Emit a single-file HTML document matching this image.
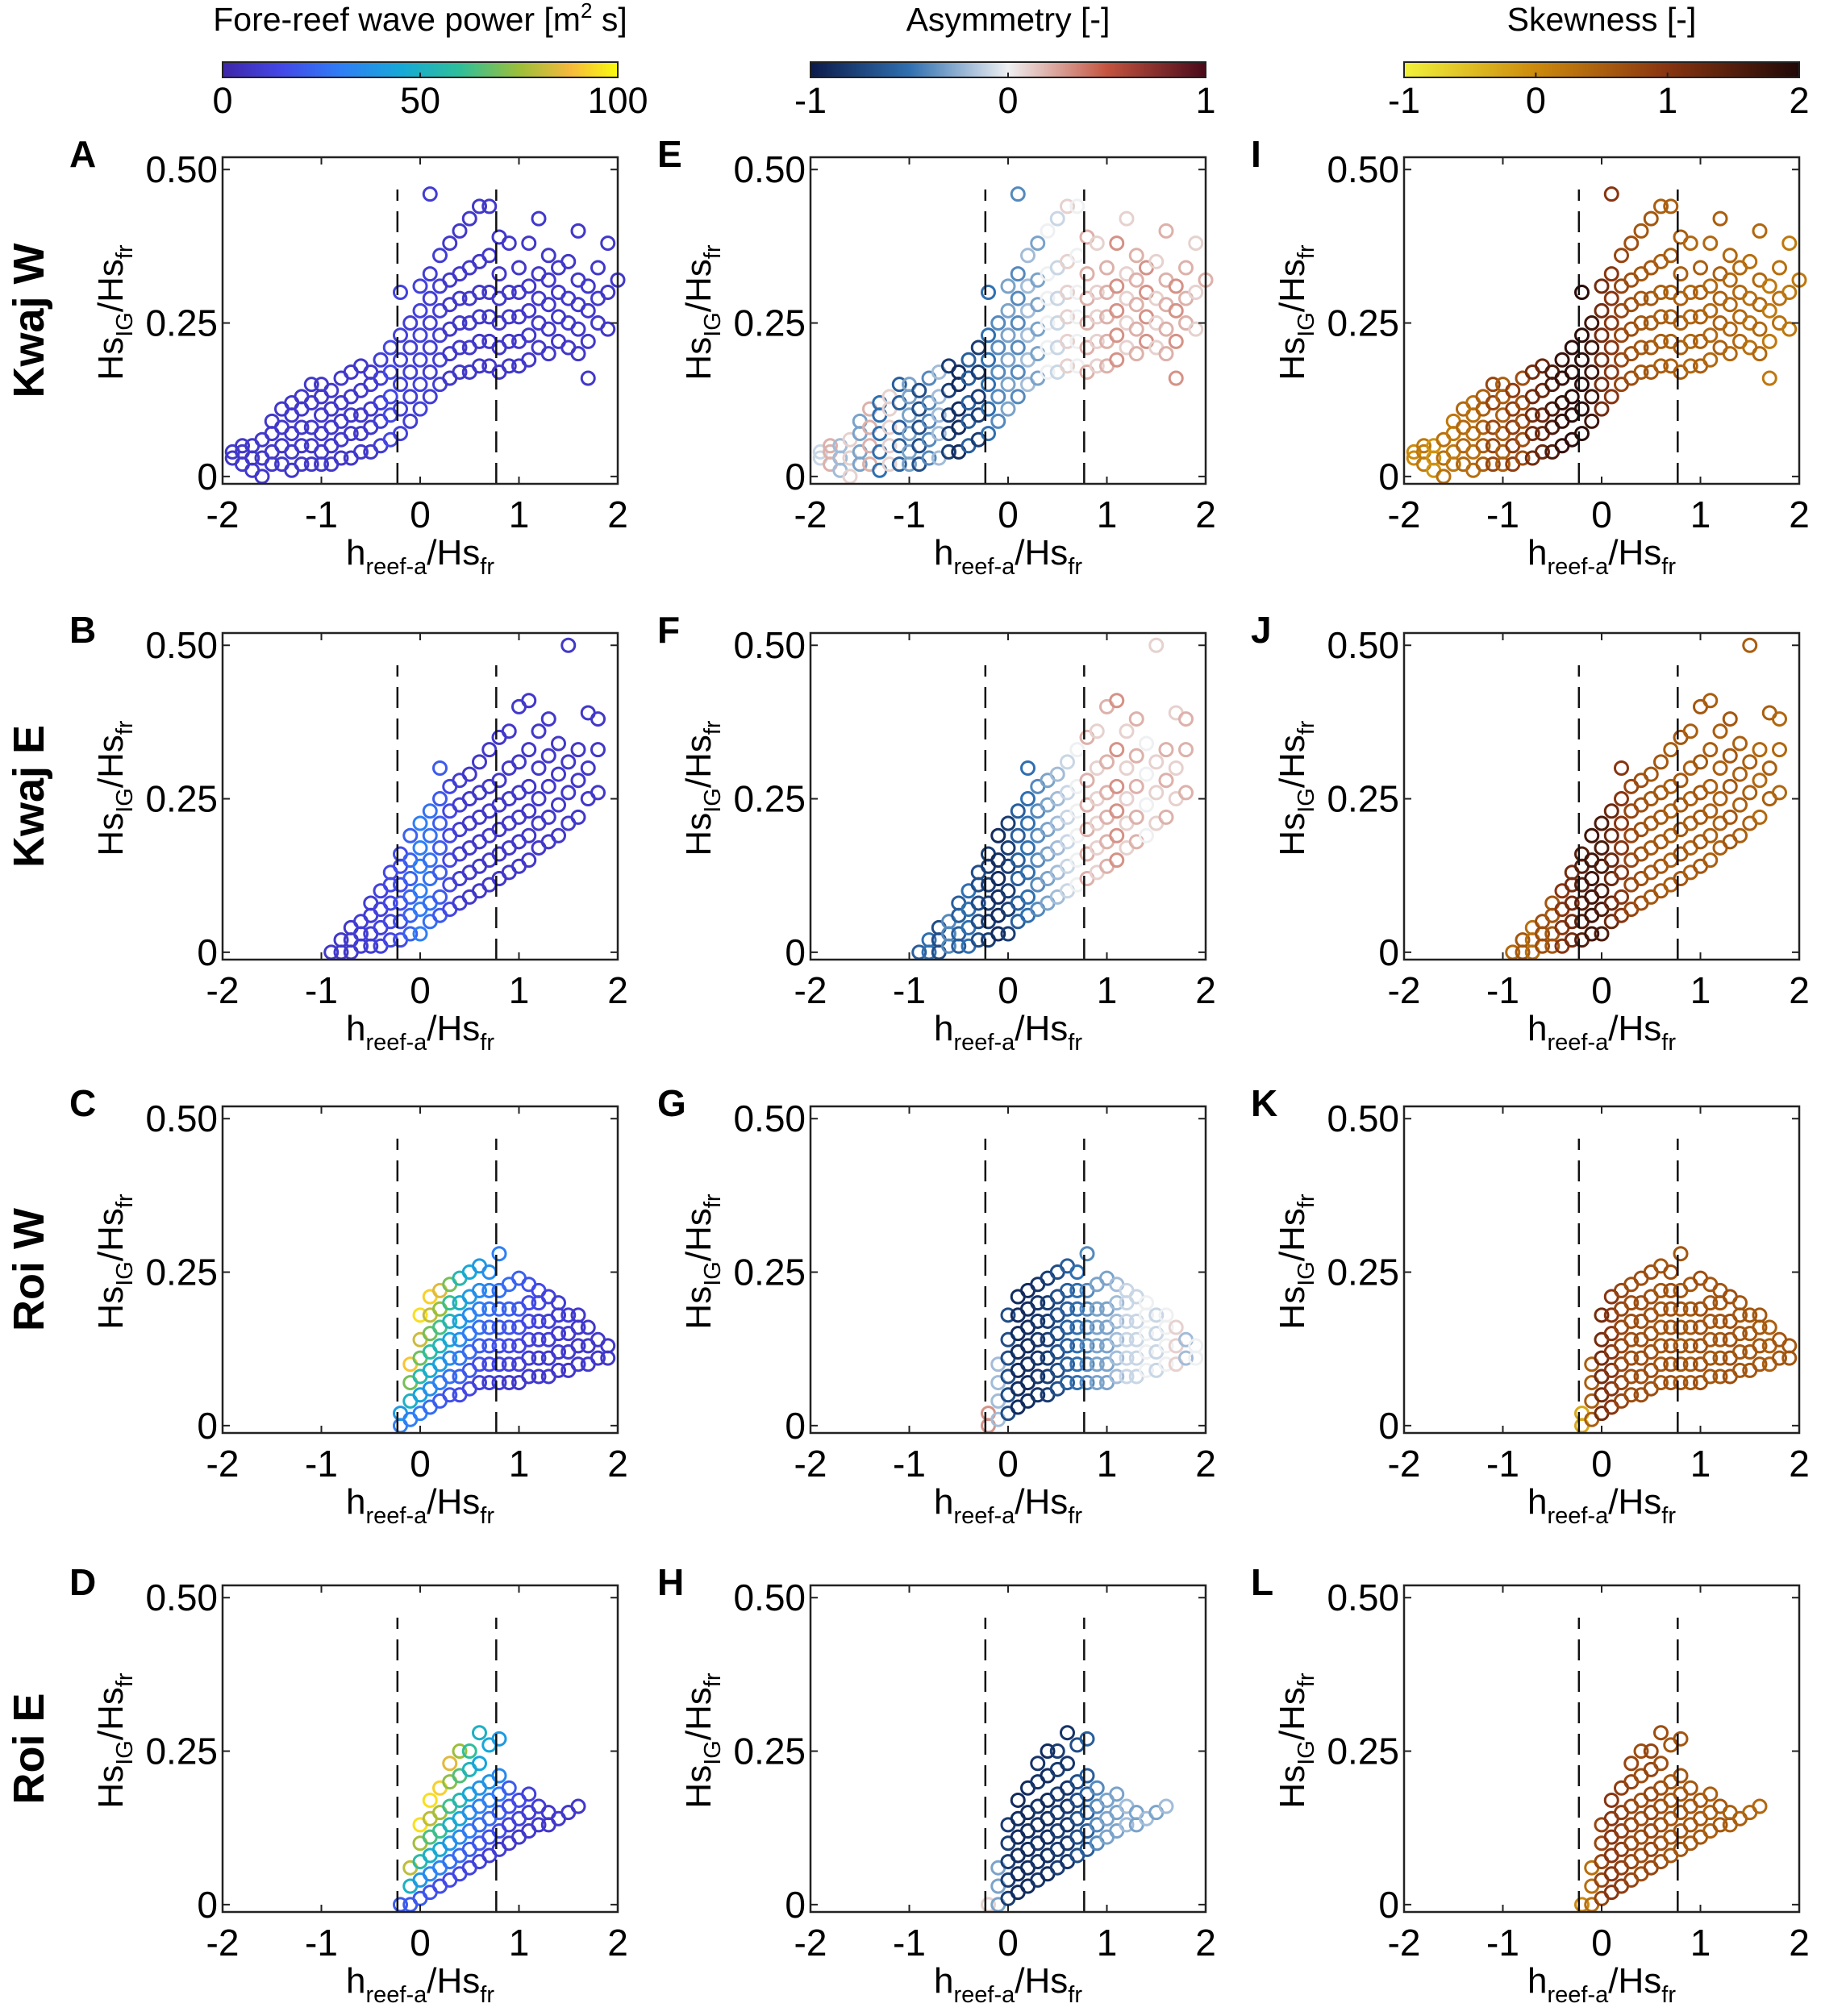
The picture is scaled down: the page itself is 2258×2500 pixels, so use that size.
<!DOCTYPE html>
<html><head><meta charset="utf-8">
<style>
html,body{margin:0;padding:0;background:#fff;}
svg{display:block;font-family:"Liberation Sans",Arial,sans-serif;}
</style></head>
<body>
<svg id="fig" width="2258" height="2500" viewBox="0 0 2258 2500" xmlns="http://www.w3.org/2000/svg">
<defs>
<linearGradient id="gParula" x1="0" x2="1" y1="0" y2="0">
<stop offset="0" stop-color="#3e26a8"/><stop offset="0.15" stop-color="#4348e8"/><stop offset="0.3" stop-color="#2f7ef6"/><stop offset="0.45" stop-color="#16a8d8"/><stop offset="0.6" stop-color="#2ebf9a"/><stop offset="0.75" stop-color="#9bbf3a"/><stop offset="0.88" stop-color="#f6b93c"/><stop offset="1" stop-color="#f9fb0e"/>
</linearGradient>
<linearGradient id="gAsym" x1="0" x2="1" y1="0" y2="0">
<stop offset="0" stop-color="#0b1a4a"/><stop offset="0.25" stop-color="#2f6fb0"/><stop offset="0.5" stop-color="#eef0f2"/><stop offset="0.75" stop-color="#c4533f"/><stop offset="1" stop-color="#4a0a1a"/>
</linearGradient>
<linearGradient id="gSkew" x1="0" x2="1" y1="0" y2="0">
<stop offset="0" stop-color="#f2f23a"/><stop offset="0.33" stop-color="#cc8a0c"/><stop offset="0.66" stop-color="#8a3510"/><stop offset="1" stop-color="#200808"/>
</linearGradient>
</defs>
<g id="root"></g>
</svg>
<script>
// ---------- data (bins of x, with y values per bin) ----------
const xTicks = [-2,-1,0,1,2];
const yTicks = [0,0.25,0.5];
const yTickLabels = ["0","0.25","0.50"];
const dashedX = [-0.23, 0.77];
const powerTicks = ["0","50","100"];
const asymTicks = ["-1","0","1"];
const skewTicks = ["-1","0","1","2"];
const rowNames = ["Kwaj W","Kwaj E","Roi W","Roi E"];
const panelLetters = [["A","E","I"],["B","F","J"],["C","G","K"],["D","H","L"]];

const kwajWX = [-1.9,-1.8,-1.7,-1.6,-1.5,-1.4,-1.3,-1.2,-1.1,-1.0,-0.9,-0.8,-0.7,-0.6,-0.5,-0.4,-0.3,-0.2,-0.1,0.0,0.1,0.2,0.3,0.4,0.5,0.6,0.7,0.8,0.9,1.0,1.1,1.2,1.3,1.4,1.5,1.6,1.7,1.8,1.9,2.0];
const kwajWY = [[.03,.04],[.02,.04,.05],[.01,.03,.05],[.0,.03,.06],[.02,.04,.07,.09],[.02,.05,.08,.11],[.01,.04,.07,.10,.12],[.02,.05,.08,.11,.13],[.02,.05,.08,.12,.15],[.02,.04,.07,.10,.13,.15],[.02,.05,.08,.11,.14],[.03,.06,.09,.12,.16],[.03,.07,.10,.13,.17],[.04,.07,.10,.14,.18],[.04,.08,.11,.15,.17],[.05,.09,.12,.16,.19],[.06,.10,.13,.17,.21],[.07,.11,.15,.19,.23,.30],[.09,.13,.17,.21,.25],[.11,.15,.19,.23,.27,.31],[.13,.17,.21,.25,.29,.33,.46],[.15,.19,.23,.27,.31,.36],[.16,.20,.24,.28,.32,.38],[.17,.21,.25,.29,.33,.40],[.17,.21,.25,.29,.34,.42],[.18,.22,.26,.30,.35,.44],[.18,.22,.26,.30,.36,.44],[.17,.21,.25,.29,.33,.39],[.18,.22,.26,.30,.38],[.18,.22,.26,.30,.34],[.19,.23,.27,.31,.38],[.21,.25,.29,.33,.42],[.20,.24,.28,.32,.36],[.22,.26,.30,.34],[.21,.25,.29,.35],[.20,.24,.28,.32,.40],[.16,.22,.27,.31],[.25,.29,.34],[.24,.30,.38],[.32]];
const kwajWPower = [8,8,8,8,8,8,8,8,8,8,8,8,8,8,8,10,14,12,10,12,10,10,8,8,8,8,8,8,8,8,8,8,8,8,8,8,8,8,8,8];
const kwajWAsym = [-0.1,0.2,-0.2,0.1,-0.3,0.2,-0.5,0.1,-0.6,-0.3,-0.7,-0.4,-0.2,-0.8,-0.9,-0.6,-0.8,-0.5,-0.4,-0.3,-0.4,-0.2,-0.3,0.0,-0.1,0.1,0.0,0.2,0.1,0.2,0.3,0.1,0.2,0.3,0.1,0.2,0.3,0.2,0.1,0.2];
const kwajWSkew = [0.0,0.2,-0.1,0.3,0.2,0.4,0.3,0.5,0.8,0.5,0.9,0.7,1.2,1.3,1.6,1.8,1.9,1.9,1.7,1.2,1.0,0.8,0.7,0.6,0.6,0.5,0.5,0.5,0.4,0.5,0.4,0.5,0.4,0.4,0.3,0.4,0.2,0.3,0.2,0.2];

const kwajEX = [-0.9,-0.8,-0.7,-0.6,-0.5,-0.4,-0.3,-0.2,-0.1,0.0,0.1,0.2,0.3,0.4,0.5,0.6,0.7,0.8,0.9,1.0,1.1,1.2,1.3,1.4,1.5,1.6,1.7,1.8];
const kwajEY = [[.0],[.0,.02],[.0,.02,.04],[.01,.03,.05],[.01,.03,.06,.08],[.01,.04,.07,.10],[.02,.05,.08,.11,.13],[.02,.05,.08,.11,.14,.16],[.03,.06,.09,.12,.15,.19],[.03,.07,.10,.14,.17,.21],[.05,.08,.12,.15,.19,.23],[.06,.09,.13,.17,.21,.25,.30],[.07,.11,.15,.19,.23,.27],[.08,.12,.16,.20,.24,.28],[.09,.13,.17,.21,.25,.29],[.10,.14,.18,.22,.26,.31],[.11,.15,.19,.23,.27,.33],[.12,.16,.20,.24,.28,.35],[.13,.17,.21,.25,.30,.36],[.14,.18,.22,.26,.31,.40],[.15,.19,.23,.27,.33,.41],[.17,.21,.25,.30,.36],[.18,.22,.27,.32,.38],[.19,.24,.29,.34],[.21,.26,.31,.50],[.22,.28,.33],[.25,.30,.39],[.26,.33,.38]];
const kwajEPower = [8,8,8,10,10,12,14,16,22,30,26,20,14,10,8,8,8,8,8,8,8,8,8,8,8,8,8,8];
const kwajESkew = [0.4,0.6,0.3,0.7,0.6,1.0,1.2,1.5,1.7,1.6,1.3,1.0,0.8,0.7,0.6,0.6,0.5,0.6,0.5,0.6,0.5,0.5,0.6,0.5,0.5,0.4,0.5,0.4];
const kwajEAsym = [-0.6,-0.5,-0.7,-0.4,-0.6,-0.5,-0.7,-0.8,-0.9,-0.8,-0.6,-0.5,-0.4,-0.3,-0.2,-0.1,0.0,0.2,0.1,0.2,0.3,0.1,0.2,0.0,0.1,0.2,0.1,0.2];

const roiWX = [-0.2,-0.1,0.0,0.1,0.2,0.3,0.4,0.5,0.6,0.7,0.8,0.9,1.0,1.1,1.2,1.3,1.4,1.5,1.6,1.7,1.8,1.9];
const roiWY = [[.0,.02],[.01,.04,.07,.10],[.02,.05,.08,.11,.14,.18],[.03,.06,.09,.12,.15,.18,.21],[.04,.07,.10,.13,.16,.19,.22],[.05,.08,.11,.14,.17,.20,.23],[.05,.08,.11,.14,.17,.20,.24],[.06,.09,.12,.15,.18,.21,.25],[.07,.10,.13,.16,.19,.22,.26],[.07,.10,.13,.16,.19,.22,.25],[.07,.10,.13,.16,.19,.22,.28],[.07,.10,.13,.16,.19,.23],[.07,.10,.13,.16,.19,.24],[.08,.11,.14,.17,.20,.23],[.08,.11,.14,.17,.20,.22],[.08,.11,.14,.17,.21],[.09,.12,.15,.18,.20],[.09,.12,.15,.18],[.10,.13,.16,.18],[.10,.13,.16],[.11,.14],[.11,.13]];
const roiWPower = [[30,40],[30,90],[30,95],[25,92],[20,85],[18,70],[15,55],[14,45],[12,40],[10,35],[10,30],[8,25],[8,22],[8,18],[8,15],[8,12],[8,10],[8,10],[8,8],[8,8],[8,8],[8,8]];
const roiWAsym = [0.3,-0.2,-0.7,-0.9,-0.9,-0.85,-0.8,-0.7,-0.6,-0.5,-0.4,-0.3,-0.3,-0.2,-0.1,-0.1,0.0,-0.1,0.0,0.1,-0.2,0.0];
const roiWSkew = [-0.3,0.5,1.2,1.0,0.8,0.7,0.7,0.7,0.6,0.7,0.6,0.6,0.7,0.6,0.6,0.7,0.6,0.6,0.6,0.5,0.6,0.6];

const roiEX = [-0.2,-0.1,0.0,0.1,0.2,0.3,0.4,0.5,0.6,0.7,0.8,0.9,1.0,1.1,1.2,1.3,1.4,1.5,1.6];
const roiEY = [[.0],[.0,.03,.06],[.01,.04,.07,.10,.13],[.02,.05,.08,.11,.14,.17],[.03,.06,.09,.12,.15,.19],[.04,.07,.10,.13,.16,.20,.23],[.05,.08,.11,.14,.17,.21,.25],[.06,.09,.12,.15,.18,.22,.25],[.07,.10,.13,.16,.19,.23,.28],[.08,.11,.14,.17,.20,.26],[.09,.12,.15,.18,.21,.27],[.10,.13,.16,.19],[.11,.14,.17],[.12,.15,.18],[.13,.16],[.13,.15],[.14],[.15],[.16]];
const roiEPower = [[20,20],[20,80],[20,95],[18,95],[16,92],[15,85],[14,75],[13,60],[12,50],[10,45],[10,40],[8,20],[8,15],[8,12],[8,10],[8,8],[8,8],[8,8],[8,8]];
const roiEAsym = [0.1,-0.3,-0.8,-0.9,-0.9,-0.85,-0.9,-0.8,-0.85,-0.7,-0.6,-0.4,-0.3,-0.3,-0.2,-0.3,-0.2,-0.3,-0.2];
const roiESkew = [0.0,0.3,0.8,1.0,0.9,0.8,0.7,0.8,0.7,0.6,0.6,0.6,0.6,0.5,0.6,0.5,0.5,0.4,0.4];

const rowsX = [kwajWX, kwajEX, roiWX, roiEX];
const rowsY = [kwajWY, kwajEY, roiWY, roiEY];
const rowsPower = [kwajWPower, kwajEPower, roiWPower, roiEPower];
const rowsAsym = [kwajWAsym, kwajEAsym, roiWAsym, roiEAsym];
const rowsSkew = [kwajWSkew, kwajESkew, roiWSkew, roiESkew];

// ---------- layout ----------
const NS = "http://www.w3.org/2000/svg";
const root = document.getElementById('root');
const colLeft = [276, 1005, 1741];
const rowTop = [195, 785, 1372, 1966];
const PW = 490, PH = 405;
const XMIN = -2, XMAX = 2, YMIN = -0.012, YMAX = 0.52;
function mk(tag, attrs, parent){ const e=document.createElementNS(NS,tag); for(const k in attrs) e.setAttribute(k,attrs[k]); (parent||root).appendChild(e); return e; }
function xScale(c, v){ return colLeft[c] + (v - XMIN)/(XMAX-XMIN)*PW; }
function yScale(r, v){ return rowTop[r] + PH - (v - YMIN)/(YMAX-YMIN)*PH; }

function lerpStops(stops, t){
  t=Math.max(0,Math.min(1,t));
  for(let i=1;i<stops.length;i++){ if(t<=stops[i][0]){ const a=stops[i-1],b=stops[i]; const u=(t-a[0])/(b[0]-a[0]||1);
    const ca=a[1], cb=b[1]; return 'rgb('+[0,1,2].map(k=>Math.round(ca[k]+(cb[k]-ca[k])*u)).join(',')+')'; } }
  const l=stops[stops.length-1][1]; return 'rgb('+l.join(',')+')';
}
const parula=[[0,[62,38,168]],[0.15,[67,72,232]],[0.3,[47,126,246]],[0.45,[22,168,216]],[0.6,[46,191,154]],[0.75,[155,191,58]],[0.88,[246,185,60]],[1,[249,251,14]]];
const asymMap=[[0,[11,26,74]],[0.25,[47,111,176]],[0.5,[238,240,242]],[0.75,[196,83,63]],[1,[74,10,26]]];
const skewMap=[[0,[242,242,58]],[0.33,[204,138,12]],[0.66,[138,53,16]],[1,[32,8,8]]];
function colorFor(col, v){
  if(col===0) return lerpStops(parula, v/100);
  if(col===1) return lerpStops(asymMap, (v+1)/2);
  return lerpStops(skewMap, (v+1)/3);
}

// ---------- colorbars ----------
const cbDefs = [
  {grad:'gParula', title:'Fore-reef wave power [m² s]', ticks:powerTicks, min:0, max:100, name:'power'},
  {grad:'gAsym', title:'Asymmetry [-]', ticks:asymTicks, min:-1, max:1, name:'asymmetry'},
  {grad:'gSkew', title:'Skewness [-]', ticks:skewTicks, min:-1, max:2, name:'skewness'}
];
cbDefs.forEach((cb,c)=>{
  const g = mk('g',{});
  
  
  const t = mk('text',{x:colLeft[c]+PW/2, y:38, 'font-size':41, 'text-anchor':'middle'}, g);
  
  
  if(c===0){ t.innerHTML='Fore-reef wave power [m<tspan font-size="26" dy="-16">2</tspan><tspan dy="16"> s]</tspan>'; } else t.textContent=cb.title;
  const r = mk('rect',{x:colLeft[c], y:77, width:PW, height:19, fill:'url(#'+cb.grad+')', stroke:'#222', 'stroke-width':2}, g);
  
  
  cb.ticks.forEach((lab,i)=>{
    const v = cb.min + i*(cb.max-cb.min)/(cb.ticks.length-1);
    const x = colLeft[c] + (v-cb.min)/(cb.max-cb.min)*PW;
    mk('line',{x1:x,x2:x,y1:90,y2:96,stroke:'#222','stroke-width':2},g);
    const tt = mk('text',{x:x, y:140, 'font-size':45, 'text-anchor':'middle'}, g);
    
    
    tt.textContent = lab;
  });
});

// ---------- row labels ----------
rowNames.forEach((nm,r)=>{
  const cy = rowTop[r] + PH/2;
  const t = mk('text',{x:0,y:0,'font-size':54,'font-weight':'bold','text-anchor':'middle',transform:'translate(54,'+cy+') rotate(-90)'});
  
  
  t.textContent = nm;
});

// ---------- panels ----------
for(let r=0;r<4;r++){
  for(let c=0;c<3;c++){
    const L=colLeft[c], T=rowTop[r];
    const g = mk('g',{});
    
    
    const pts = mk('g',{fill:'none','stroke-width':3}, g);
    
    
    const xs=rowsX[r], ys=rowsY[r];
    const metric = c===0?rowsPower[r]:(c===1?rowsAsym[r]:rowsSkew[r]);
    xs.forEach((xv,i)=>{
      const col = ys[i];
      col.forEach((yv,j)=>{
        let m = metric[i];
        if(Array.isArray(m)){ const u = col.length>1? j/(col.length-1):0; m = m[0]+(m[1]-m[0])*u; }
        const circ = mk('circle',{cx:xScale(c,xv), cy:yScale(r,yv), r:8, stroke:colorFor(c,m)}, pts);
        
        
      });
    });
    dashedX.forEach(dx=>{
      const ln = mk('line',{x1:xScale(c,dx),x2:xScale(c,dx),y1:T+PH,y2:T+40,stroke:'#111','stroke-width':2.5,'stroke-dasharray':'26,13'}, g);
      
      
    });
    const box = mk('rect',{x:L,y:T,width:PW,height:PH,fill:'none',stroke:'#222','stroke-width':2.5}, g);
    
    
    xTicks.forEach(v=>{
      const x=xScale(c,v);
      mk('line',{x1:x,x2:x,y1:T+PH,y2:T+PH-9,stroke:'#222','stroke-width':2},g);
      mk('line',{x1:x,x2:x,y1:T,y2:T+9,stroke:'#222','stroke-width':2},g);
      const t=mk('text',{x:x,y:T+PH+54,'font-size':46,'text-anchor':'middle'},g);
      
      
      t.textContent=String(v);
    });
    yTicks.forEach((v,i)=>{
      const y=yScale(r,v);
      mk('line',{x1:L,x2:L+9,y1:y,y2:y,stroke:'#222','stroke-width':2},g);
      mk('line',{x1:L+PW,x2:L+PW-9,y1:y,y2:y,stroke:'#222','stroke-width':2},g);
      const t=mk('text',{x:L-6,y:y+16,'font-size':46,'text-anchor':'end'},g);
      
      
      t.textContent=yTickLabels[i];
    });
    const xl = mk('text',{x:L+PW/2,y:T+PH+100,'font-size':44,'text-anchor':'middle'},g);
    
    
    xl.innerHTML='h<tspan font-size="29" dy="12">reef-a</tspan><tspan dy="-12">/Hs</tspan><tspan font-size="29" dy="12">fr</tspan>';
    const yl = mk('text',{x:0,y:0,'font-size':44,'text-anchor':'middle',transform:'translate('+(L-124)+','+(T+PH/2-10)+') rotate(-90)'},g);
    
    
    yl.innerHTML='Hs<tspan font-size="29" dy="12">IG</tspan><tspan dy="-12">/Hs</tspan><tspan font-size="29" dy="12">fr</tspan>';
    const lt = mk('text',{x:L-190,y:T+12,'font-size':46,'font-weight':'bold'},g);
    
    
    lt.textContent=panelLetters[r][c];
  }
}
</script>
</body></html>
